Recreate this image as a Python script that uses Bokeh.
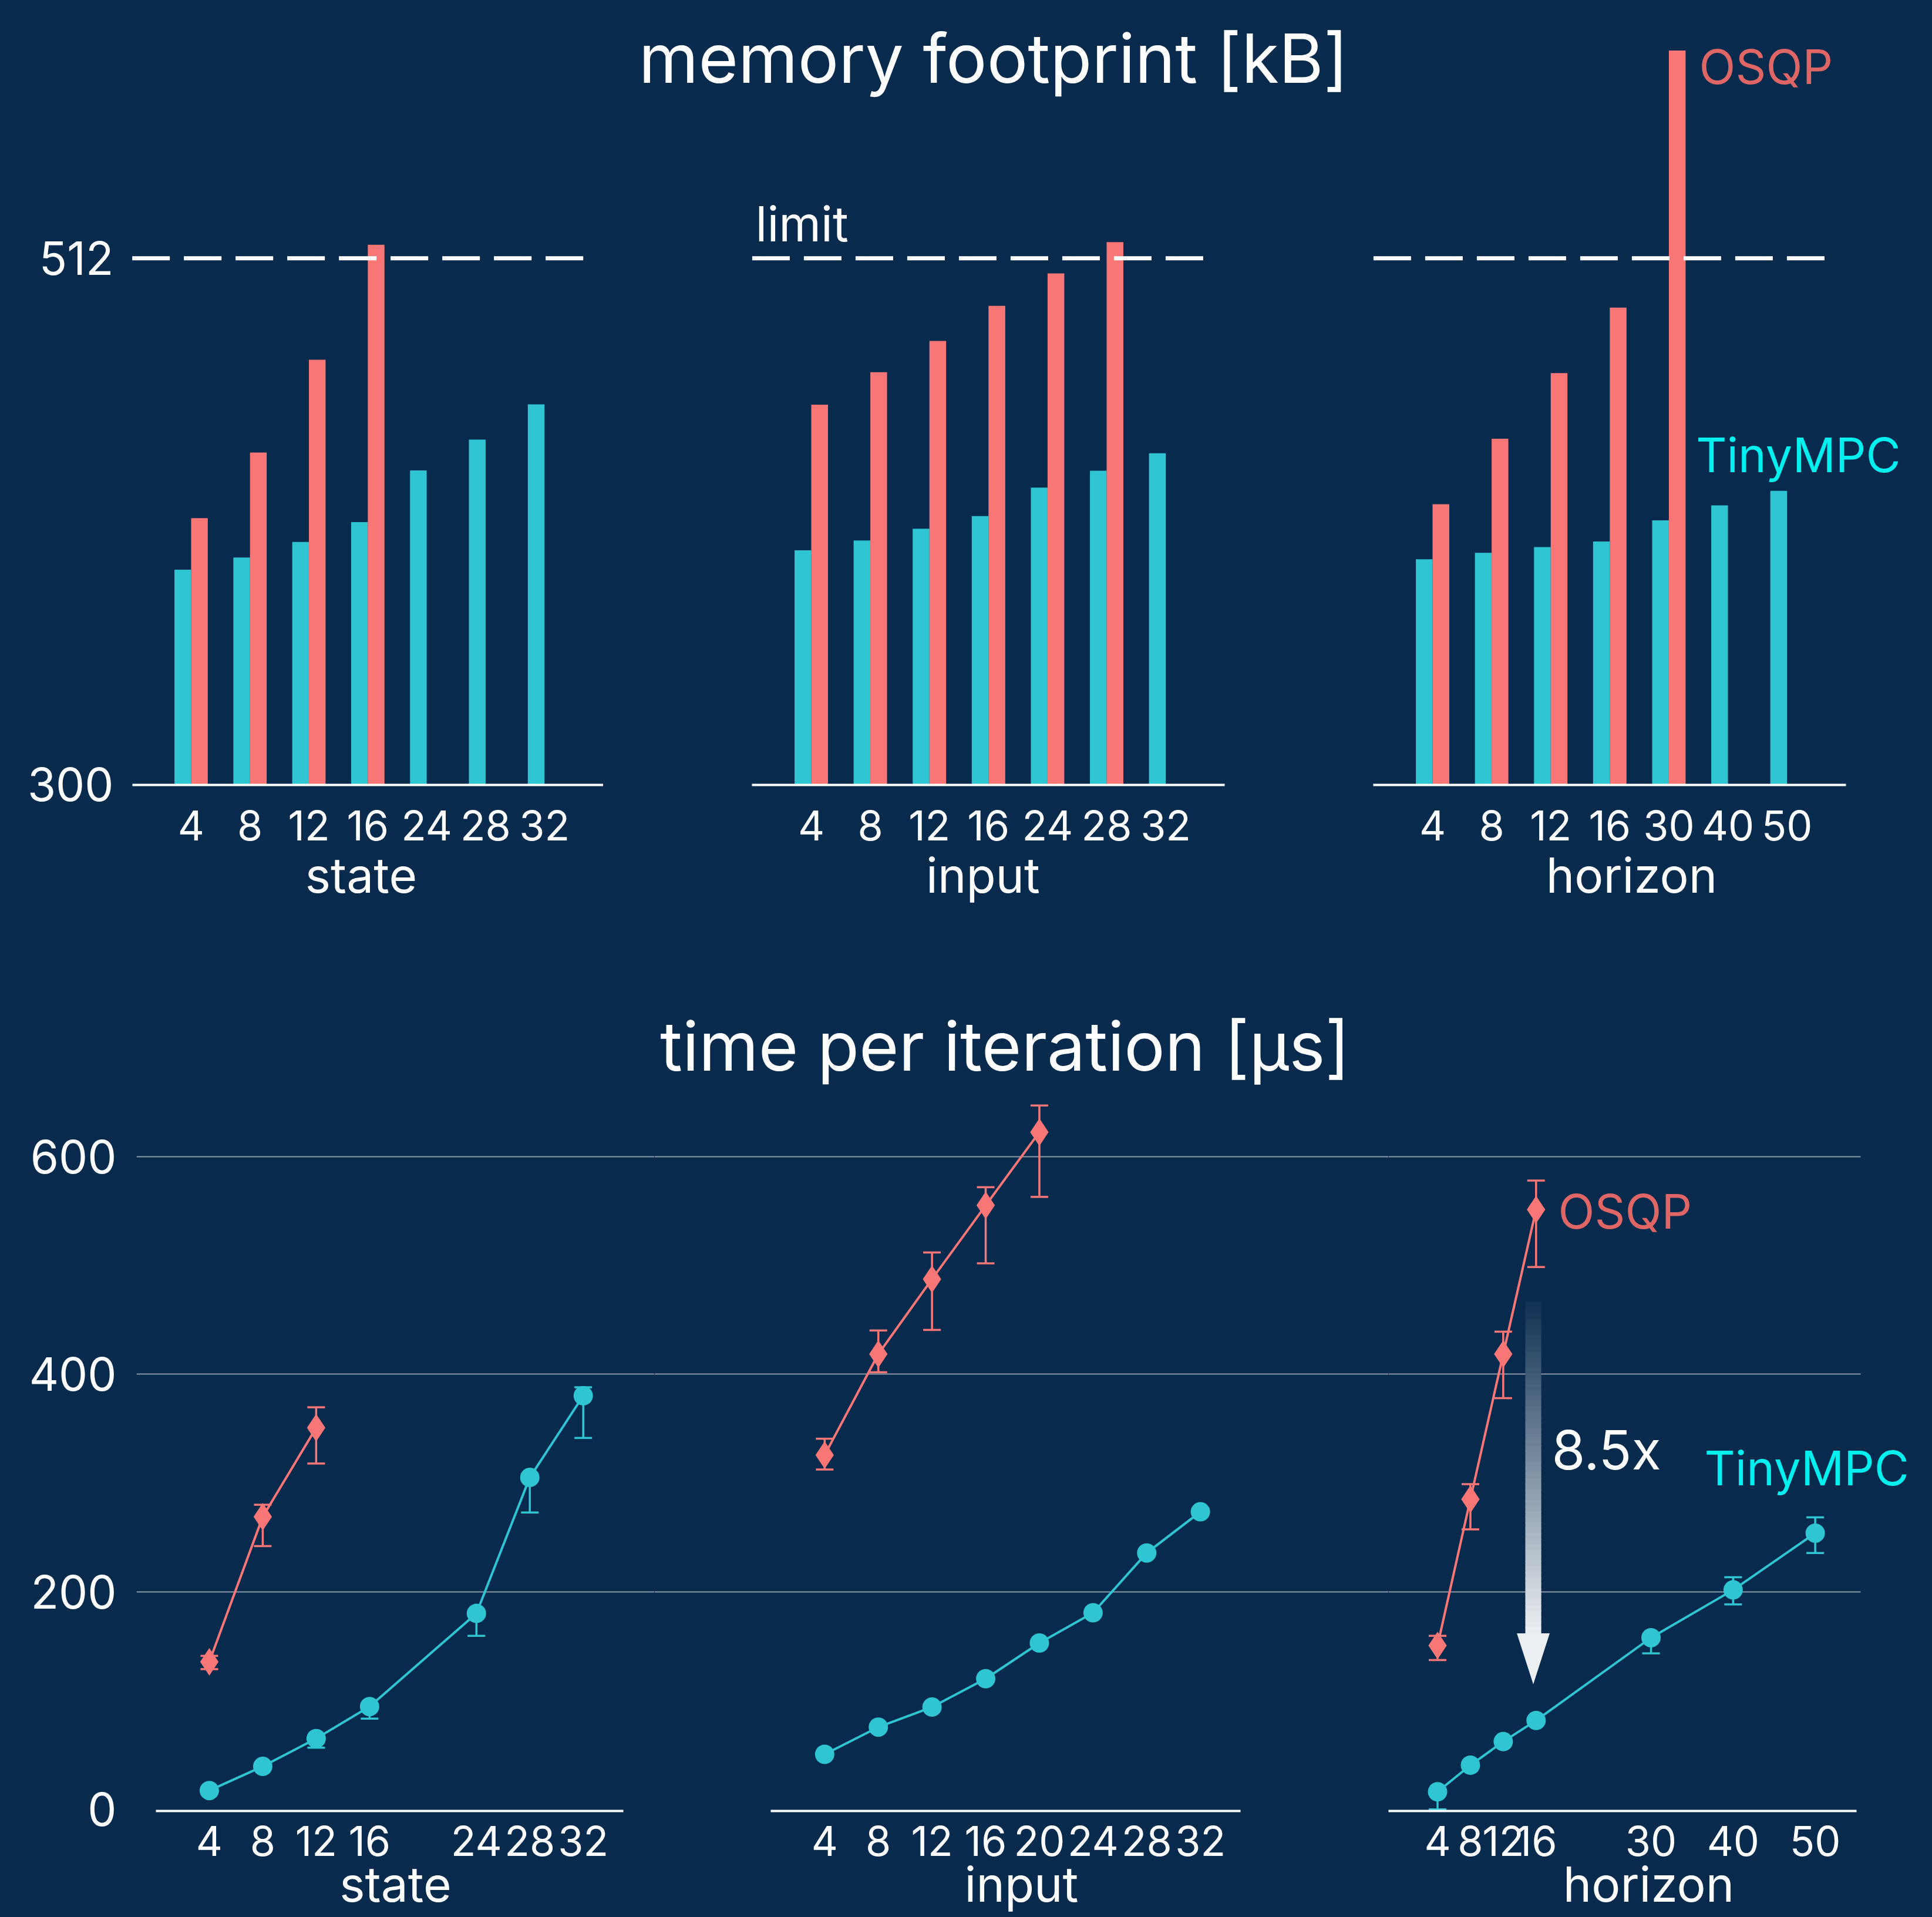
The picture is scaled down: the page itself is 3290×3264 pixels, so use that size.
import numpy as np
from bokeh.plotting import figure
from bokeh.layouts import column, row
from bokeh.models import (Range1d, FixedTicker, Label, Whisker, TeeHead, ColumnDataSource,
                          Grid, GlobalInlineStyleSheet)
from bokeh.transform import dodge
from bokeh.embed import file_html
from bokeh.resources import INLINE

# ---------------- data: memory footprint [kB] ----------------
state_cats = ["4", "8", "12", "16", "24", "28", "32"]
state_mem_tiny = [386.5, 391.4, 397.7, 405.7, 426.5, 438.9, 453.1]
state_mem_osqp = [407.3, 433.7, 471.1, 517.4]

input_cats = ["4", "8", "12", "16", "24", "28", "32"]
input_mem_tiny = [394.3, 398.3, 403.0, 408.1, 419.6, 426.4, 433.4]
input_mem_osqp = [453.0, 466.1, 478.7, 492.8, 505.9, 518.5]

horizon_cats = ["4", "8", "12", "16", "30", "40", "50"]
horizon_mem_tiny = [390.7, 393.3, 395.6, 397.9, 406.4, 412.4, 418.3]
horizon_mem_osqp = [412.9, 439.3, 465.7, 492.1, 595.7]

mem_floor = 300
mem_limit = 512
mem_ticks = [300, 512]

# ---------------- data: time per iteration [us] ----------------
state_x_osqp = [4, 8, 12]
state_t_osqp = [135.6, 269.0, 350.7]
state_t_osqp_lo = [128.9, 242.0, 317.9]
state_t_osqp_hi = [141.1, 280.0, 369.6]
state_x_tiny = [4, 8, 12, 16, 24, 28, 32]
state_t_tiny = [17.3, 39.5, 65.1, 94.5, 180.1, 305.1, 380.2]
state_t_tiny_lo = [17.3, 39.5, 56.7, 83.4, 159.5, 272.9, 341.4]
state_t_tiny_hi = [17.3, 39.5, 65.1, 94.5, 180.1, 305.1, 388.0]

input_x_osqp = [4, 8, 12, 16, 20]
input_t_osqp = [325.7, 418.5, 487.4, 555.2, 622.5]
input_t_osqp_lo = [312.4, 401.8, 440.7, 501.9, 563.0]
input_t_osqp_hi = [340.7, 440.2, 511.9, 571.9, 647.0]
input_x_tiny = [4, 8, 12, 16, 20, 24, 28, 32]
input_t_tiny = [50.6, 75.6, 94.0, 120.1, 152.9, 180.7, 235.7, 273.5]

horizon_x_osqp = [4, 8, 12, 16]
horizon_t_osqp = [150.6, 285.1, 418.5, 551.3]
horizon_t_osqp_lo = [137.3, 257.3, 378.0, 498.5]
horizon_t_osqp_hi = [159.5, 299.0, 439.1, 578.0]
horizon_x_tiny = [4, 8, 12, 16, 30, 40, 50]
horizon_t_tiny = [16.2, 40.6, 62.3, 81.7, 157.8, 201.7, 253.9]
horizon_t_tiny_lo = [0.0, 40.6, 62.3, 81.7, 143.4, 188.4, 235.6]
horizon_t_tiny_hi = [16.2, 40.6, 62.3, 81.7, 160.0, 213.4, 268.4]

time_ticks = [0, 200, 400, 600]
time_grid = [200, 400, 600]
speedup_text = "8.5x"

# ---------------- style ----------------
BG = "#082b4d"
CYAN = "#2fc5d3"
RED = "#f87776"
OSQP_TXT = "#e06666"
TINY_TXT = "#00f0f0"
GRID = "#8d9aa8"
FONT = "Inter"
TICK_PX = 70
YTICK_PX = 78
LAB_PX = 82
NAME_PX = 81
TITLE_PX = 116
BASELINE_FIX = 0.34   # Bokeh draws "alphabetic" labels slightly low; lift by this many em


def make_fig(w, h, xr, yr, ml=0, mr=0, mt=0, mb=0, yaxis=False):
    p = figure(width=w, height=h, x_range=Range1d(*xr), y_range=Range1d(*yr),
               output_backend="svg", toolbar_location=None,
               y_axis_location="left" if yaxis else None,
               background_fill_color=None, border_fill_color=None,
               outline_line_color=None,
               min_border_left=ml, min_border_right=mr,
               min_border_top=mt, min_border_bottom=mb)
    for g in p.grid:
        g.visible = False
    for ax in p.axis:
        ax.major_tick_line_color = None
        ax.minor_tick_line_color = None
        ax.major_tick_out = 0
        ax.major_tick_in = 0
        ax.major_label_text_color = "white"
        ax.major_label_text_font = FONT
    return p


def label(p, x, y, text, size_px, ppu, color="white", align="left"):
    y = y + BASELINE_FIX * size_px / ppu
    p.add_layout(Label(x=x, y=y, text=text, text_font=FONT, text_font_size="%dpx" % size_px,
                       text_color=color, text_align=align, text_baseline="alphabetic"))


def style_xaxis(p, ticks, bounds, standoff, name, name_standoff, overrides=None):
    ax = p.xaxis[0]
    ax.ticker = FixedTicker(ticks=ticks)
    if overrides:
        ax.major_label_overrides = overrides
    ax.bounds = bounds
    ax.axis_line_color = "white"
    ax.axis_line_width = 4
    ax.major_label_text_font_size = "%dpx" % TICK_PX
    ax.major_label_standoff = standoff
    ax.axis_label = name
    ax.axis_label_text_font = FONT
    ax.axis_label_text_font_style = "normal"
    ax.axis_label_text_font_size = "%dpx" % LAB_PX
    ax.axis_label_text_color = "white"
    ax.axis_label_standoff = name_standoff


# ---------------- top row: memory bars ----------------
T_H = 1600
T_MB = 264
T_PPU = 4.2264
T_Y = (299.8, 299.8 + (T_H - T_MB) / T_PPU)
BAR_W = 0.283
BAR_OFF = 0.1415


def mem_panel(w, xr, cats, tiny, osqp, name, ml=0, mr=0, yaxis=False):
    p = make_fig(w, T_H, xr, T_Y, ml=ml, mr=mr, mb=T_MB, yaxis=yaxis)
    idx = list(range(len(cats)))
    src_t = ColumnDataSource(dict(x=idx, top=tiny))
    src_o = ColumnDataSource(dict(x=idx[:len(osqp)], top=osqp))
    p.vbar(x=dodge("x", -BAR_OFF), top="top", bottom=mem_floor, width=BAR_W,
           source=src_t, fill_color=CYAN, line_color=None)
    p.vbar(x=dodge("x", BAR_OFF), top="top", bottom=mem_floor, width=BAR_W,
           source=src_o, fill_color=RED, line_color=None)
    p.segment(x0=-1, y0=mem_limit, x1=len(cats) - 0.32, y1=mem_limit,
              line_color="white", line_width=7, line_dash="64 24")
    style_xaxis(p, idx, (-1, len(cats)), 43, name, 7, {i: c for i, c in enumerate(cats)})
    if yaxis:
        ay = p.yaxis[0]
        ay.ticker = FixedTicker(ticks=mem_ticks)
        ay.axis_line_color = None
        ay.major_label_text_font_size = "%dpx" % YTICK_PX
        ay.major_label_standoff = 9
    return p


t1 = mem_panel(1027, (-1.226, 7.0), state_cats, state_mem_tiny, state_mem_osqp,
               "state", ml=202, yaxis=True)
t2 = mem_panel(1293, (-3.519, 9.334), input_cats, input_mem_tiny, input_mem_osqp, "input")
t3 = mem_panel(968, (-1.183, 7.922), horizon_cats, horizon_mem_tiny, horizon_mem_osqp,
               "horizon", mr=52)

label(t2, 3.086, 583.2, "memory footprint [kB]", TITLE_PX, T_PPU, align="center")
label(t2, -0.944, 519.1, "limit", LAB_PX, T_PPU)
label(t3, 4.513, 582.5, "OSQP", NAME_PX, T_PPU, color=OSQP_TXT)
label(t3, 4.46, 426.2, "TinyMPC", NAME_PX, T_PPU, color=TINY_TXT)

# ---------------- bottom row: time lines ----------------
B_H = 1662
B_MB = 179
B_PPU = 1.8523
B_Y = (-1.5, -1.5 + (B_H - B_MB) / B_PPU)
HAS_CROSS = "cross_bounds" in Grid.properties()


def whisk(p, xs, lo, hi, color):
    src = ColumnDataSource(dict(x=xs, lo=lo, hi=hi))
    p.add_layout(Whisker(source=src, base="x", lower="lo", upper="hi",
                         line_color=color, line_width=3.5,
                         upper_head=TeeHead(size=30, line_color=color, line_width=3.5),
                         lower_head=TeeHead(size=30, line_color=color, line_width=3.5)))


def time_panel(w, xr, ticks, bounds, name, ml=0, mr=0, grid_end=None, yaxis=False):
    p = make_fig(w, B_H, xr, B_Y, ml=ml, mr=mr, mb=B_MB, yaxis=yaxis)
    gkw = {}
    if HAS_CROSS and grid_end is not None:
        gkw["cross_bounds"] = (xr[0], grid_end)
    p.add_layout(Grid(dimension=1, ticker=FixedTicker(ticks=time_grid),
                      grid_line_color=GRID, grid_line_width=2, **gkw))
    style_xaxis(p, ticks, bounds, 25, name, -4)
    if yaxis:
        ay = p.yaxis[0]
        ay.ticker = FixedTicker(ticks=time_ticks)
        ay.axis_line_color = None
        ay.major_label_text_font_size = "%dpx" % YTICK_PX
        ay.major_label_standoff = 34
    return p


def series(p, xo, to, lo_o, hi_o, xt, tt, lo_t=None, hi_t=None):
    whisk(p, xo, lo_o, hi_o, RED)
    if lo_t is not None:
        whisk(p, xt, lo_t, hi_t, CYAN)
    p.line(xo, to, line_color=RED, line_width=4)
    p.scatter(xo, to, marker="diamond", size=47, fill_color=RED, line_color=None)
    p.line(xt, tt, line_color=CYAN, line_width=4)
    p.scatter(xt, tt, marker="circle", size=33, fill_color=CYAN, line_color=None)


b1 = time_panel(1114, (-1.451, 37.335), state_x_tiny, (0, 35), "state", ml=232, yaxis=True)
series(b1, state_x_osqp, state_t_osqp, state_t_osqp_lo, state_t_osqp_hi,
       state_x_tiny, state_t_tiny, state_t_tiny_lo, state_t_tiny_hi)

b2 = time_panel(1250, (-8.683, 46.02), input_x_tiny, (0, 35), "input")
series(b2, input_x_osqp, input_t_osqp, input_t_osqp_lo, input_t_osqp_hi,
       input_x_tiny, input_t_tiny)

b3 = time_panel(924, (-1.974, 61.40), horizon_x_tiny, (-2, 55), "horizon", mr=38,
                grid_end=55.54)

# speed-up arrow (gradient shaft + head), drawn under the series
arr_x, arr_half, head_half = 15.66, 0.97, 2.0
arr_top, arr_neck, arr_tip = 466.0, 161.8, 115.0
n_seg = 60
edges = np.linspace(arr_top, arr_neck, n_seg + 1)
bg_rgb = np.array([8, 43, 77], dtype=float)
end_rgb = np.array([234, 237, 241], dtype=float)
fr = np.linspace(0.04, 1.0, n_seg)
cols = ["#%02x%02x%02x" % tuple(int(round(v)) for v in bg_rgb * (1 - f) + end_rgb * f) for f in fr]
b3.quad(left=arr_x - arr_half, right=arr_x + arr_half, top=list(edges[:-1] + 0.6),
        bottom=list(edges[1:]), fill_color=cols, line_color=None)
b3.patch([arr_x - head_half, arr_x + head_half, arr_x], [arr_neck, arr_neck, arr_tip],
         fill_color="#eceff2", line_color=None)

series(b3, horizon_x_osqp, horizon_t_osqp, horizon_t_osqp_lo, horizon_t_osqp_hi,
       horizon_x_tiny, horizon_t_tiny, horizon_t_tiny_lo, horizon_t_tiny_hi)

label(b2, 17.44, 680.4, "time per iteration [\u03bcs]", TITLE_PX, B_PPU, align="center")
label(b3, 18.7, 534.6, "OSQP", NAME_PX, B_PPU, color=OSQP_TXT)
label(b3, 36.5, 298.7, "TinyMPC", NAME_PX, B_PPU, color=TINY_TXT)
label(b3, 17.91, 313.8, speedup_text, 92, B_PPU)

layout = column(row(t1, t2, t3), row(b1, b2, b3))
layout.styles = {"background-color": BG}
layout.stylesheets = [GlobalInlineStyleSheet(css="html, body { background-color: %s; }" % BG)]
open("out.html", "w").write(file_html(layout, INLINE))
